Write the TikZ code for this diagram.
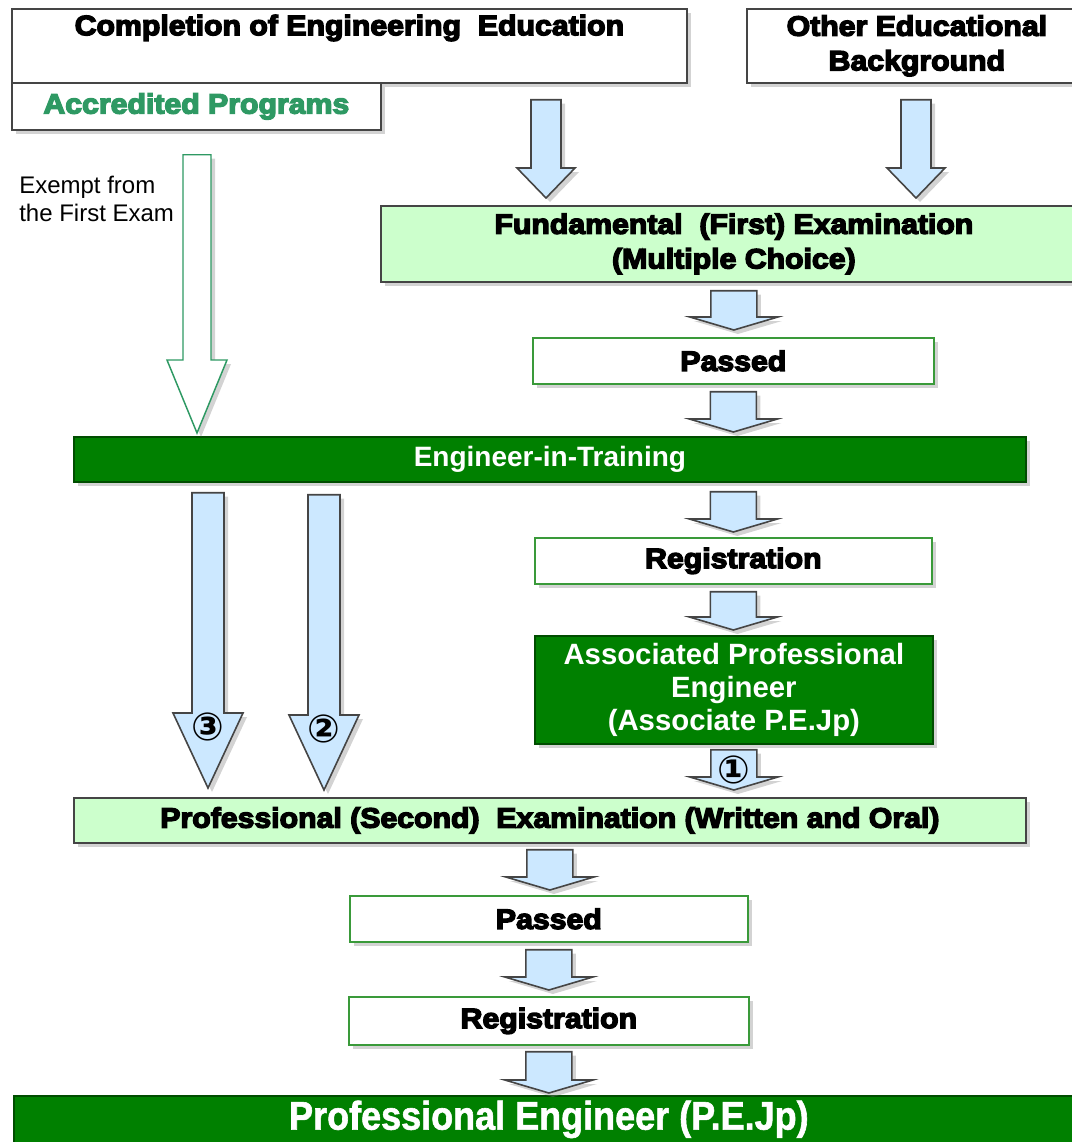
\documentclass[tikz,border=0pt]{standalone}
\usepackage{fontspec}
\setmainfont{Liberation Sans}
\newfontfamily\heavyfont{Liberation Sans}[BoldFeatures={FakeBold=5},FakeStretch=1.08]
\newfontfamily\narrowfont{Liberation Sans}[BoldFeatures={FakeBold=1.5},FakeStretch=0.9]
\newfontfamily\circfont{DejaVu Sans}
\usetikzlibrary{calc,shadows}

\definecolor{exgreen}{HTML}{CCFFCC}
\definecolor{ptgreen}{HTML}{008000}
\definecolor{arrowblue}{HTML}{CCE8FF}
\definecolor{edgegray}{HTML}{454545}
\definecolor{boxgreen}{HTML}{3A9A3A}
\definecolor{acgreen}{HTML}{2E9963}

\newcommand{\pxu}{0.75pt}
% vertical block arrow: [style]{start}{tip}{shaft half width}{head half width}{head length}
\newcommand{\blockarrow}[6][arr]{%
  \draw[#1] let \p1=#2, \p2=#3 in
    (\x1-#4*\pxu,\y1) -- (\x1+#4*\pxu,\y1) -- (\x1+#4*\pxu,\y2+#6*\pxu)
    -- (\x1+#5*\pxu,\y2+#6*\pxu) -- (\x1,\y2) -- (\x1-#5*\pxu,\y2+#6*\pxu)
    -- (\x1-#4*\pxu,\y2+#6*\pxu) -- cycle;}

\begin{document}
\begin{tikzpicture}[x=0.75pt,y=-0.75pt,
  shad/.style={drop shadow={shadow xshift=3pt,shadow yshift=-3pt,opacity=.35}},
  box/.style={draw=edgegray,line width=1.3pt,fill=white,inner sep=0pt,anchor=north west,shad},
  passbox/.style={box,draw=boxgreen},
  exambox/.style={box,fill=exgreen},
  titlebox/.style={box,draw=ptgreen!60!black,fill=ptgreen,text=white},
  heavy/.style={font=\fontsize{21}{26}\selectfont\heavyfont\bfseries,align=center},
  whitetxt/.style={font=\fontsize{21}{25}\selectfont\bfseries,align=center},
  num/.style={font=\fontsize{29}{29}\selectfont\circfont\bfseries,inner sep=0pt},
  arr/.style={draw=edgegray,line width=1.2pt,fill=arrowblue,shad},
  openarr/.style={draw=acgreen,line width=1.1pt,fill=white,shad}]
\useasboundingbox (0,0) rectangle (1071,1142);

% entry boxes
\node[box,minimum width=675*\pxu,minimum height=74*\pxu] (compl) at (11,8) {};
\node[heavy] (compltxt) at ($(compl.north)+(0,20)$) {Completion of Engineering\ \ Education};
\node[box,heavy,text=acgreen,minimum width=369*\pxu,minimum height=47*\pxu] (accr) at (11,82) {Accredited Programs};
\node[box,heavy,minimum width=340*\pxu,minimum height=74*\pxu] (other) at (746,8) {Other Educational\\Background};
\node[font=\fontsize{18}{21}\selectfont,align=left,anchor=west,inner sep=0pt] (exempt) at (19,199) {Exempt from\\the First Exam};

% flow boxes
\node[exambox,heavy,minimum width=706*\pxu,minimum height=76*\pxu] (fund) at (380,205) {Fundamental\ \ (First) Examination\\(Multiple Choice)};
\node[passbox,heavy,minimum width=401*\pxu,minimum height=46*\pxu] (pass1) at (532,337) {Passed};
\node[titlebox,whitetxt,minimum width=952*\pxu,minimum height=45*\pxu] (eit) at (73,436) {Engineer-in-Training};
\node[passbox,heavy,minimum width=397*\pxu,minimum height=46*\pxu] (reg1) at (534,537) {Registration};
\node[titlebox,whitetxt,font=\fontsize{22}{24.75}\selectfont\bfseries,minimum width=398*\pxu,minimum height=108*\pxu] (ape) at (534,635) {Associated Professional\\Engineer\\(Associate P.E.Jp)};
\node[exambox,heavy,minimum width=952*\pxu,minimum height=45*\pxu] (prof2) at (73,797) {Professional (Second)\ \ Examination (Written and Oral)};
\node[passbox,heavy,minimum width=398*\pxu,minimum height=46*\pxu] (pass2) at (349,895) {Passed};
\node[passbox,heavy,minimum width=400*\pxu,minimum height=48*\pxu] (reg2) at (348,996) {Registration};
\node[titlebox,font=\fontsize{30}{31}\selectfont\narrowfont\bfseries,minimum width=1070*\pxu,minimum height=47*\pxu] (pe) at (13,1095) {Professional Engineer (P.E.Jp)};

% arrows
\blockarrow{($(compl.south west)+(535,16)$)}{($(fund.north)+(0,-7)$)}{15}{29}{30}
\blockarrow{($(other.south west)+(170,16)$)}{($(fund.north)+(0,-7)$)}{15}{29}{30}
\blockarrow[openarr]{($(accr.south west)+(186,24)$)}{($(eit.north)+(0,-3)$)}{14}{30}{73}
\blockarrow{($(fund.south)+(0,8)$)}{($(pass1.north)+(0,-7)$)}{23}{44}{13}
\blockarrow{($(pass1.south)+(0,7)$)}{($(eit.north)+(0,-4)$)}{23}{44}{13}
\blockarrow{($(eit.south -| pass1.south)+(0,9)$)}{($(reg1.north)+(0,-5)$)}{23}{44}{13}
\blockarrow{($(reg1.south)+(0,7)$)}{($(ape.north)+(0,-5)$)}{23}{44}{13}
\blockarrow{($(ape.south)+(0,5)$)}{($(prof2.north)+(0,-7)$)}{23}{44}{13}
\blockarrow{($(prof2.south)+(0,6)$)}{($(pass2.north)+(0,-5)$)}{23}{44}{13}
\blockarrow{($(pass2.south)+(0,7)$)}{($(reg2.north)+(0,-6)$)}{23}{44}{13}
\blockarrow{($(reg2.south)+(0,6)$)}{($(pe.north)+(0,-2)$)}{23}{44}{13}

\coordinate (r3s) at ($(eit.south west)+(135,10)$);
\coordinate (r3t) at ($(prof2.north west)+(135,-9)$);
\coordinate (r2s) at ($(eit.south west)+(251,12)$);
\coordinate (r2t) at ($(prof2.north west)+(251,-7)$);
\blockarrow{(r3s)}{(r3t)}{16}{35}{75}
\blockarrow{(r2s)}{(r2t)}{16}{35}{75}

\node[num] (n3) at ($(r3t)+(0,-61)$) {③};
\node[num] (n2) at ($(r2t)+(0,-61)$) {②};
\node[num] (n1) at ($(ape.south)+(0,25)$) {①};
\end{tikzpicture}
\end{document}
